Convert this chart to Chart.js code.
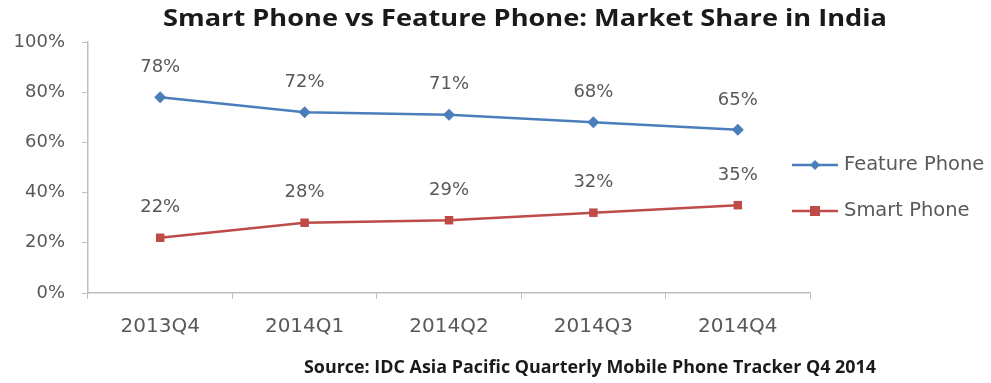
<!DOCTYPE html>
<html>
<head>
<meta charset="utf-8">
<script src="https://cdn.jsdelivr.net/npm/chart.js@4"></script>
<style>
  html, body { margin: 0; padding: 0; background: #fff; }
  #wrap { width: 991px; height: 383px; position: relative; }
</style>
</head>
<body>
<div id="wrap"><canvas id="grafico"></canvas></div>
<script>
const trimestres = ["2013Q4", "2014Q1", "2014Q2", "2014Q3", "2014Q4"];
const featurePhone = [78, 72, 71, 68, 65];
const smartPhone = [22, 28, 29, 32, 35];
const ticksY = [0, 20, 40, 60, 80, 100];

const titulo = "Smart Phone vs Feature Phone: Market Share in India";
const fonte = "Source: IDC Asia Pacific Quarterly Mobile Phone Tracker Q4 2014";

const corTexto = "#595959";
const corEixo = "#bfbfbf";

// escreve um texto centrado esticando na horizontal até a largura desejada
function textoLargura(ctx, txt, cx, cy, largura) {
    const w = ctx.measureText(txt).width;
    const k = largura / w;
    ctx.save();
    ctx.translate(cx, cy);
    ctx.scale(k, 1);
    ctx.fillText(txt, 0, 0);
    ctx.restore();
}

// rótulos de valor acima de cada ponto
const rotulosPlugin = {
    id: "rotulos",
    afterDatasetsDraw(chart) {
        const ctx = chart.ctx;
        ctx.save();
        ctx.font = "18px 'DejaVu Sans'";
        ctx.fillStyle = corTexto;
        ctx.textAlign = "center";
        ctx.textBaseline = "middle";
        chart.data.datasets.forEach((ds, i) => {
            chart.getDatasetMeta(i).data.forEach((pt, j) => {
                ctx.fillText(ds.data[j] + "%", pt.x, pt.y - 30);
            });
        });
        ctx.restore();
    }
};

// título, fonte e legenda à direita
const textosPlugin = {
    id: "textos",
    afterDraw(chart) {
        const ctx = chart.ctx;
        ctx.save();
        ctx.fillStyle = "#1a1a1a";
        ctx.textAlign = "center";
        ctx.textBaseline = "middle";
        ctx.font = "bold 24px 'Open Sans'";
        textoLargura(ctx, titulo, 525, 19, 724);
        ctx.font = "bold 17px 'Open Sans'";
        textoLargura(ctx, fonte, 590, 368, 572);

        const linhas = [165, 211];
        chart.data.datasets.forEach((ds, i) => {
            const y = linhas[i];
            ctx.strokeStyle = ds.borderColor;
            ctx.lineWidth = 2.5;
            ctx.beginPath();
            ctx.moveTo(792, y);
            ctx.lineTo(838, y);
            ctx.stroke();
            ctx.fillStyle = ds.backgroundColor;
            ctx.beginPath();
            if (ds.pointStyle === "rectRot") {
                ctx.moveTo(815, y - 5);
                ctx.lineTo(820, y);
                ctx.lineTo(815, y + 5);
                ctx.lineTo(810, y);
                ctx.closePath();
            } else {
                ctx.rect(810, y - 5, 10, 10);
            }
            ctx.fill();
            ctx.fillStyle = corTexto;
            ctx.textAlign = "left";
            ctx.font = "19.5px 'DejaVu Sans'";
            ctx.fillText(ds.label, 844, y);
        });
        ctx.restore();
    }
};

const ctx = document.getElementById("grafico").getContext("2d");
const chart = new Chart(ctx, {
    type: "line",
    data: {
        labels: trimestres,
        datasets: [
            {
                label: "Feature Phone",
                data: featurePhone,
                borderColor: "#4a7ebb",
                backgroundColor: "#4a7ebb",
                borderWidth: 2.5,
                pointStyle: "rectRot",
                pointRadius: 6,
                pointBorderWidth: 0,
                tension: 0
            },
            {
                label: "Smart Phone",
                data: smartPhone,
                borderColor: "#be4b48",
                backgroundColor: "#be4b48",
                borderWidth: 2.5,
                pointStyle: "rect",
                pointRadius: 6,
                pointBorderWidth: 0,
                tension: 0
            }
        ]
    },
    options: {
        responsive: true,
        maintainAspectRatio: false,
        animation: false,
        layout: { padding: { top: 42, right: 181, bottom: 0, left: 0 } },
        plugins: {
            legend: { display: false },
            tooltip: { enabled: false }
        },
        scales: {
            x: {
                offset: true,
                grid: {
                    offset: true,
                    drawOnChartArea: false,
                    tickLength: 6,
                    color: corEixo
                },
                border: { color: corEixo, width: 1.5 },
                ticks: {
                    color: corTexto,
                    font: { family: "DejaVu Sans", size: 20 },
                    padding: 16,
                    maxRotation: 0
                },
                afterFit(scale) { scale.height = 90; }
            },
            y: {
                min: 0,
                max: 100,
                grid: {
                    drawOnChartArea: false,
                    tickLength: 6,
                    color: corEixo
                },
                border: { color: corEixo, width: 1.5 },
                afterBuildTicks(scale) {
                    scale.ticks = ticksY.map(v => ({ value: v }));
                },
                ticks: {
                    color: corTexto,
                    font: { family: "DejaVu Sans", size: 18 },
                    padding: 17,
                    callback: v => v + "%"
                },
                afterFit(scale) { scale.width = 88; }
            }
        }
    },
    plugins: [rotulosPlugin, textosPlugin]
});
</script>
</body>
</html>
